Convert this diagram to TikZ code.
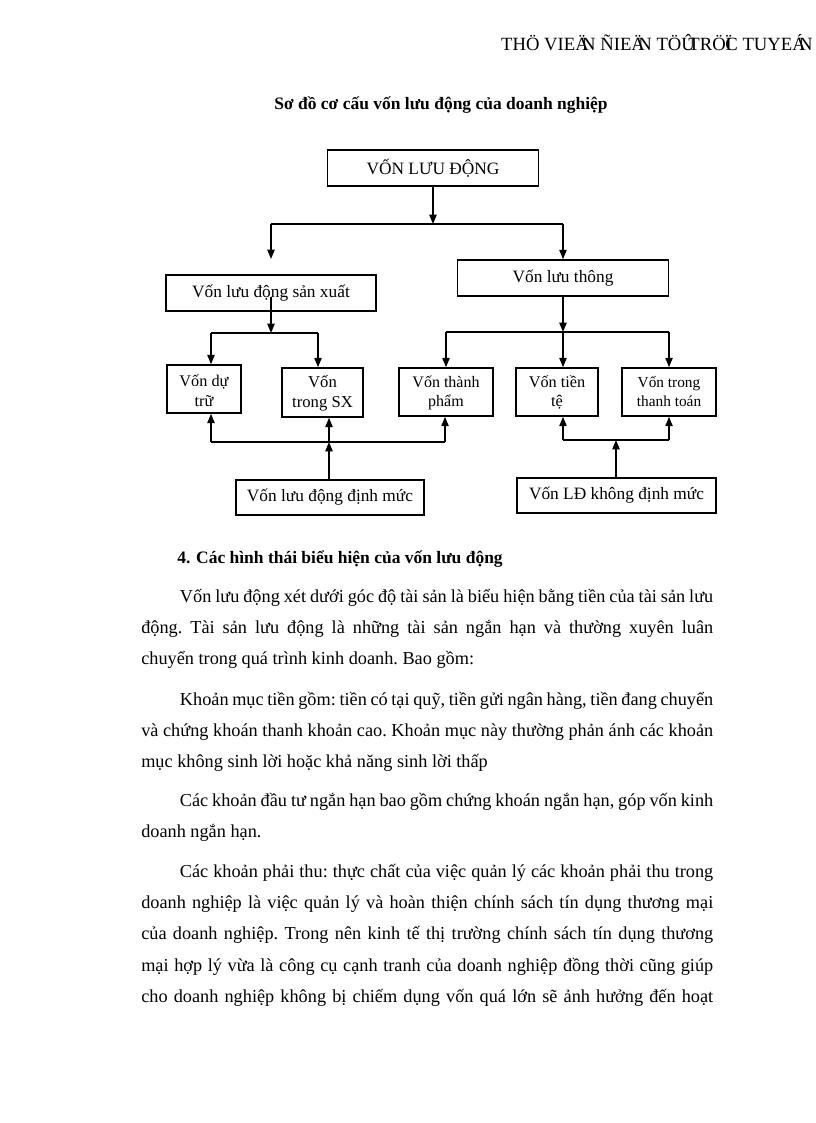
\documentclass[tikz,border=0pt]{standalone}
\usepackage{fontspec}
\setmainfont{Liberation Serif}
\usetikzlibrary{arrows.meta}
\begin{document}
\begin{tikzpicture}[x=0.75pt, y=-0.75pt, font=\fontsize{13}{15}\selectfont,
  box/.style={draw, line width=1.2pt, inner sep=0pt, align=center},
  two/.style={box, text height=#1, text depth=3pt, font=\fontsize{12.2}{14.6}\selectfont},
  ln/.style={line width=1pt},
  arr/.style={line width=1pt, -{Triangle[width=5.5pt,length=7pt]}},
  para/.style={anchor=base west, inner sep=0pt, text width=429pt, align=justify, font=\fontsize{13.7}{23.5}\selectfont\frenchspacing}]
\useasboundingbox (0,0) rectangle (816,1123);
\node[anchor=base east, inner sep=0pt, font=\fontsize{14}{16}\selectfont] (hdr) at (813,51) {THÖ VIEÄ\kern-.35emN ÑIEÄ\kern-.35emN TÖÛ\kern-.35emTRÖÏ\kern-.35emC TUYEÁ\kern-.35emN};
\node[anchor=base, inner sep=0pt, font=\bfseries\fontsize{13.1}{16}\selectfont] (ttl) at (441,110) {Sơ đồ cơ cấu vốn lưu động của doanh nghiệp};
\node[box, minimum width=158.25pt, minimum height=27pt] (vld) at (433,168) {VỐN LƯU ĐỘNG};
\node[box, minimum width=158.25pt, minimum height=27pt] (vlt) at (563,278) {Vốn lưu thông};
\node[box, minimum width=157.5pt, minimum height=27pt] (vsx) at (271,293) {Vốn lưu động sản xuất};
\node[two=29pt, minimum width=55.5pt, minimum height=36pt] (vdt) at (204,389) {Vốn dự\\trữ};
\node[two=25pt, minimum width=60.75pt, minimum height=36.75pt, font=\fontsize{12.5}{15}\selectfont] (vtsx) at (322.5,392.5) {Vốn\\trong SX};
\node[two=25pt, minimum width=70.5pt, minimum height=36pt, font=\fontsize{12}{14.6}\selectfont] (vtp) at (446,392) {Vốn thành\\phẩm};
\node[two=25pt, minimum width=61.5pt, minimum height=36pt] (vtt) at (557,392) {Vốn tiền\\tệ};
\node[two=25pt, minimum width=70.5pt, minimum height=36pt, font=\fontsize{11.5}{14.3}\selectfont] (vttt) at (669,392) {Vốn trong\\thanh toán};
\node[box, minimum width=141pt, minimum height=26.25pt] (vdm) at (330,497.5) {Vốn lưu động định mức};
\node[box, minimum width=149.25pt, minimum height=26.25pt] (vkdm) at (616.5,495.5) {Vốn LĐ không định mức};
\coordinate (b1) at (433,224); \coordinate (bl) at (271,224); \coordinate (br) at (563,224); \coordinate (sxt) at (271,259);
\draw[arr] (vld.south) -- (b1); \draw[ln] (bl) -- (br); \draw[arr] (bl) -- (sxt); \draw[arr] (br) -- (vlt.north);
\coordinate (b2) at (271,333); \coordinate (p1) at (211,333); \coordinate (p2) at (318,333);
\draw[arr] ([yshift=-3pt]vsx.center) -- (b2); \draw[ln] (p1) -- (p2); \draw[arr] (p1) -- (p1 |- vdt.north); \draw[arr] (p2) -- (p2 |- vtsx.north);
\coordinate (r1) at (446,332); \coordinate (r2) at (563,332); \coordinate (r3) at (669,332);
\draw[arr] (vlt.south) -- (r2); \draw[ln] (r1) -- (r3); \draw[arr] (r1) -- (vtp.north); \draw[arr] (r2) -- (r2 |- vtt.north); \draw[arr] (r3) -- (vttt.north);
\coordinate (q1) at (211,442); \coordinate (q2) at (329,442); \coordinate (q3) at (445,442);
\draw[ln] (q1) -- (q3); \draw[arr] (q1) -- (q1 |- vdt.south); \draw[arr] (q2) -- (q2 |- vtsx.south); \draw[arr] (q3) -- (q3 |- vtp.south); \draw[arr] (vdm.north -| q2) -- (q2);
\coordinate (s1) at (563,440); \coordinate (s2) at (616,440); \coordinate (s3) at (669,440);
\draw[ln] (s1) -- (s3); \draw[arr] (s1) -- (s1 |- vtt.south); \draw[arr] (s3) -- (vttt.south); \draw[arr] (vkdm.north -| s2) -- (s2);
\node[anchor=base west, inner sep=0pt, font=\bfseries\fontsize{13.1}{16}\selectfont] (hd4) at (177,563) {4. Các hình thái biểu hiện của vốn lưu động};
\node[para] (pa1) at (141,602) {\hspace*{29pt}Vốn lưu động xét dưới góc độ tài sản là biểu hiện bằng tiền của tài sản lưu\linebreak động. Tài sản lưu động là những tài sản ngắn hạn và thường xuyên luân\linebreak chuyển trong quá trình kinh doanh. Bao gồm:};
\node[para] (pa2) at (141,705) {\hspace*{29pt}Khoản mục tiền gồm: tiền có tại quỹ, tiền gửi ngân hàng, tiền đang chuyển\linebreak và chứng khoán thanh khoản cao. Khoản mục này thường phản ánh các khoản\linebreak mục không sinh lời hoặc khả năng sinh lời thấp};
\node[para] (pa3) at (141,806) {\hspace*{29pt}Các khoản đầu tư ngắn hạn bao gồm chứng khoán ngắn hạn, góp vốn kinh\linebreak doanh ngắn hạn.};
\node[para] (pa4) at (141,877) {\hspace*{29pt}Các khoản phải thu: thực chất của việc quản lý các khoản phải thu trong\linebreak doanh nghiệp là việc quản lý và hoàn thiện chính sách tín dụng thương mại\linebreak của doanh nghiệp. Trong nên kinh tế thị trường chính sách tín dụng thương\linebreak mại hợp lý vừa là công cụ cạnh tranh của doanh nghiệp đồng thời cũng giúp\linebreak cho doanh nghiệp không bị chiếm dụng vốn quá lớn sẽ ảnh hưởng đến hoạt\linebreak};
\end{tikzpicture}
\end{document}
